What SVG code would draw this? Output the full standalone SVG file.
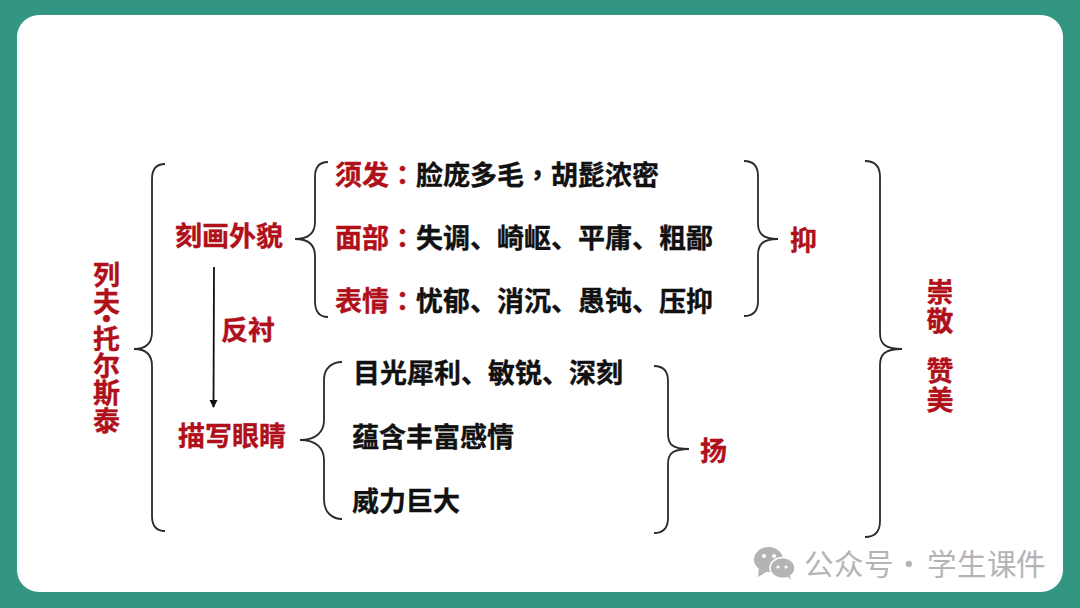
<svg xmlns="http://www.w3.org/2000/svg" width="1080" height="608" viewBox="0 0 1080 608">
<defs>
<marker id="ah" markerUnits="userSpaceOnUse" markerWidth="10" markerHeight="10" refX="7" refY="4" orient="auto"><path d="M0 0L8 4L0 8Z" fill="#111"/></marker>
</defs>
<style>
text{font-family:"Noto Sans CJK SC","Noto Sans",sans-serif;font-weight:700}
.r{fill:#b0101a;stroke:#b0101a;stroke-width:.35px;font-size:27px}
.k{fill:#111;stroke:#111;stroke-width:.35px;font-size:27px}
.p{font-family:"Noto Sans CJK TC","Noto Sans",sans-serif}
.v{fill:#b0101a;stroke:#b0101a;stroke-width:.35px;font-size:27px;text-anchor:middle}
.b{fill:none;stroke:#2b2b2b;stroke-width:1.8}
</style>
<rect width="1080" height="608" fill="#339683"/>
<rect x="17" y="15" width="1046" height="577" rx="22" fill="#fff"/>
<g id="connectors">
<path class="b" d="M165 164C156 164 152 169 152 179V332C152 342 147 349 134 349C147 349 152 356 152 366V516C152 526 156 531 165 531"/>
<path class="b" d="M328 162C319 162 315 167 315 177V222C315 232 310 239 295 239C310 239 315 246 315 256V301C315 311 319 317 328 317"/>
<path class="b" d="M342 362C332 362 324 368 324 380V420C324 432 316 440 300 440C316 440 324 448 324 460V500C324 512 332 519 342 519"/>
<path class="b" d="M744 161C753 161 758 166 758 176V223C758 233 762 239 778 239C762 239 758 245 758 255V301C758 311 753 316 744 316"/>
<path class="b" d="M654 366C663 366 668 371 668 381V434C668 444 672 449 689 449C672 449 668 454 668 464V518C668 528 663 533 654 533"/>
<path class="b" d="M865 161C875 161 880 167 880 177V333C880 343 884 349 902 349C884 349 880 355 880 365V521C880 531 875 537 865 537"/>
<line x1="214" y1="267" x2="213.500" y2="407" stroke="#111" stroke-width="1.800" marker-end="url(#ah)"/>
</g>
<g id="root"><text class="v" x="106.500 106.500 106.500 106.500 106.500 106.500 106.500" y="285 312 329 349 376 403 431">列夫·托尔斯泰</text></g>
<g id="appearance"><text class="r" x="175" y="246">刻画外貌</text></g>
<g id="contrast"><text class="r" x="221" y="340">反衬</text></g>
<g id="eyes"><text class="r" x="178" y="446">描写眼睛</text></g>
<g id="hair"><text class="r" x="335" y="185">须发<tspan class="p">：</tspan><tspan class="k">脸庞多毛<tspan class="p">，</tspan>胡髭浓密</tspan></text></g>
<g id="face"><text class="r" x="335" y="248">面部<tspan class="p">：</tspan><tspan class="k">失调、崎岖、平庸、粗鄙</tspan></text></g>
<g id="expression"><text class="r" x="335" y="311">表情<tspan class="p">：</tspan><tspan class="k">忧郁、消沉、愚钝、压抑</tspan></text></g>
<g id="eye1"><text class="k" x="353" y="383">目光犀利、敏锐、深刻</text></g>
<g id="eye2"><text class="k" x="352" y="447">蕴含丰富感情</text></g>
<g id="eye3"><text class="k" x="352" y="511">威力巨大</text></g>
<g id="suppress"><text class="r" x="790" y="250">抑</text></g>
<g id="raise"><text class="r" x="700" y="461">扬</text></g>
<g id="respect"><text class="v" x="940 940 940 940" y="302 331 381 410">崇敬赞美</text></g>
<g id="watermark">
<path d="M759 568L758 577L768 571Z" fill="#b4b4b4"/>
<ellipse cx="768.500" cy="559.500" rx="14.500" ry="12.500" fill="#b4b4b4"/>
<ellipse cx="782.500" cy="568" rx="12.500" ry="10.500" fill="#b4b4b4" stroke="#fff" stroke-width="1.500"/>
<path d="M787 576L791 580L789 573Z" fill="#b4b4b4"/>
<g fill="#fff"><circle cx="764" cy="556" r="2"/><circle cx="774" cy="556" r="2"/><circle cx="778" cy="567" r="1.600"/><circle cx="786" cy="567" r="1.600"/></g>
<text x="804 834 864 894 927 957 987 1016" y="575" fill="#b4b4b4" style="font-size:29.500px;font-weight:400">公众号·学生课件</text>
</g>
</svg>
